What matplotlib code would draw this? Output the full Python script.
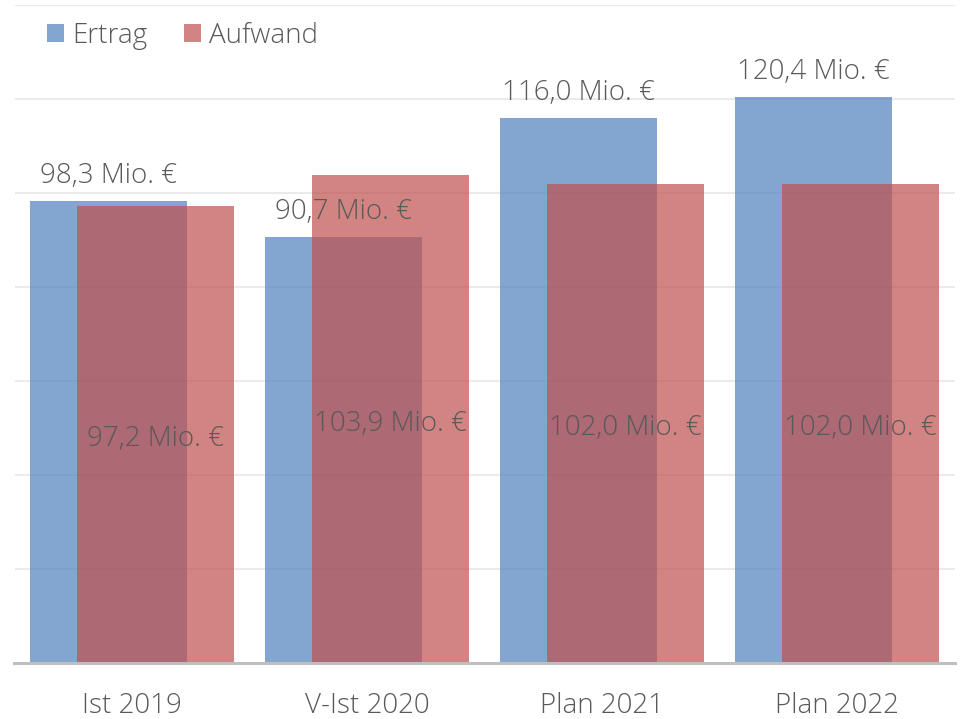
import matplotlib
matplotlib.use("Agg")
import matplotlib.pyplot as plt
import numpy as np

categories = ["Ist 2019", "V-Ist 2020", "Plan 2021", "Plan 2022"]
ertrag = [98.3, 90.7, 116.0, 120.4]
aufwand = [97.2, 103.9, 102.0, 102.0]

def fmt(v):
    return ("%.1f Mio. €" % v).replace(".", ",", 1)

plt.rcParams["font.family"] = ["Open Sans", "DejaVu Sans"]
plt.rcParams["font.weight"] = "light"
text_col = "#595959"
fs = 20

fig = plt.figure(figsize=(9.61, 7.19), dpi=100)
ax = fig.add_axes([14.5 / 961, 1 - 663 / 719, 940 / 961, 658 / 719])

x = np.arange(len(categories))
w = 0.668
ax.bar(x - 0.1, ertrag, w, color="#4F81BD", alpha=0.7, label="Ertrag", zorder=2)
ax.bar(x + 0.1, aufwand, w, color="#C0504D", alpha=0.7, label="Aufwand", zorder=3)

for xi, v in zip(x, ertrag):
    ax.annotate(fmt(v), (xi - 0.1, v), xytext=(0, 13), textcoords="offset points",
                ha="center", va="baseline", fontsize=fs, color=text_col, zorder=4)
for xi, v in zip(x, aufwand):
    ax.annotate(fmt(v), (xi + 0.1, v / 2), xytext=(0, -3.5), textcoords="offset points",
                ha="center", va="center", fontsize=fs, color=text_col, zorder=4)

ax.set_xlim(-0.5, 3.5)
ax.set_ylim(0, 140)
ax.set_yticks(np.arange(20, 141, 20))
ax.yaxis.grid(True, color="#EBEBEB", linewidth=1.5, zorder=0)
ax.set_axisbelow(True)
ax.tick_params(axis="y", left=False, labelleft=False)
ax.set_xticks(x)
ax.set_xticklabels(categories, fontsize=fs, color=text_col)
ax.tick_params(axis="x", length=0, pad=21)
for s in ["top", "right", "left"]:
    ax.spines[s].set_visible(False)
ax.spines["bottom"].set_color("#BFBFBF")
ax.spines["bottom"].set_linewidth(2.2)
ax.spines["bottom"].set_zorder(5)

leg = ax.legend(loc="upper left", bbox_to_anchor=(36 / 961, 1 - 11 / 719),
                bbox_transform=fig.transFigure, ncol=2, frameon=False,
                fontsize=fs, handlelength=0.62, handleheight=0.62,
                handletextpad=0.3, columnspacing=1.3, borderaxespad=0)
for t in leg.get_texts():
    t.set_color(text_col)

fig.savefig("out.png", dpi=100)
